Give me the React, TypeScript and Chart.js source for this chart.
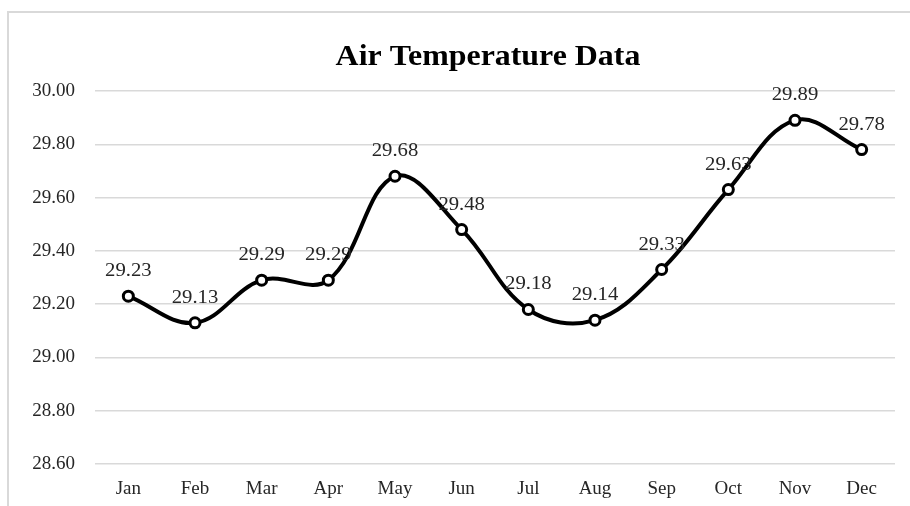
import React, { useEffect, useRef } from "react";
import { Chart, registerables } from "chart.js";

Chart.register(...registerables);

const title = "Air Temperature Data";
const months = ["Jan", "Feb", "Mar", "Apr", "May", "Jun", "Jul", "Aug", "Sep", "Oct", "Nov", "Dec"];
const temperatures = [29.23, 29.13, 29.29, 29.29, 29.68, 29.48, 29.18, 29.14, 29.33, 29.63, 29.89, 29.78];
const yMin = 28.6;
const yMax = 30.0;
const yStep = 0.2;

const FONT = "'Liberation Serif', 'Times New Roman', serif";

function stretchedText(ctx: any, text: string, x: number, y: number, sx: number) {
  ctx.save();
  ctx.translate(x, y);
  ctx.scale(sx, 1);
  ctx.fillText(text, 0, 0);
  ctx.restore();
}

const titlePlugin = {
  id: "customTitle",
  afterDraw(chart: any) {
    const ctx = chart.ctx;
    ctx.save();
    ctx.font = `bold 29px ${FONT}`;
    ctx.fillStyle = "#000000";
    ctx.textAlign = "center";
    ctx.textBaseline = "alphabetic";
    stretchedText(ctx, title, 488, 65, 1.1);
    ctx.restore();
  },
};

const dataLabelPlugin = {
  id: "dataLabels",
  afterDatasetsDraw(chart: any) {
    const ctx = chart.ctx;
    const meta = chart.getDatasetMeta(0);
    const data = chart.data.datasets[0].data as number[];
    ctx.save();
    ctx.font = `18px ${FONT}`;
    ctx.fillStyle = "#262626";
    ctx.textAlign = "center";
    ctx.textBaseline = "alphabetic";
    meta.data.forEach((pt: any, i: number) => {
      stretchedText(ctx, data[i].toFixed(2), pt.x, pt.y - 20, 1.15);
    });
    ctx.restore();
  },
};

export default function App() {
  const canvasRef = useRef<HTMLCanvasElement | null>(null);

  useEffect(() => {
    if (!canvasRef.current) return;
    const chart = new Chart(canvasRef.current, {
      type: "line",
      data: {
        labels: months,
        datasets: [
          {
            data: temperatures,
            borderColor: "#000000",
            borderWidth: 4,
            tension: 0.38,
            pointRadius: 5,
            pointHoverRadius: 5,
            pointBorderWidth: 3,
            pointBackgroundColor: "#ffffff",
            pointBorderColor: "#000000",
            fill: false,
          },
        ],
      },
      options: {
        animation: false,
        responsive: false,
        maintainAspectRatio: false,
        layout: { padding: { top: 91, right: 15, bottom: 0, left: 0 } },
        plugins: {
          legend: { display: false },
          title: { display: false },
          tooltip: { enabled: false },
        },
        scales: {
          x: {
            offset: true,
            grid: { display: false, drawTicks: false },
            border: { display: false },
            ticks: {
              color: "#262626",
              font: { family: FONT, size: 19 },
              padding: 14,
              maxRotation: 0,
              autoSkip: false,
            },
            afterFit(scale: any) {
              scale.height = 42;
            },
          },
          y: {
            min: yMin,
            max: yMax,
            grid: { color: "#d9d9d9", lineWidth: 1.5, drawTicks: false },
            border: { display: false },
            ticks: {
              stepSize: yStep,
              color: "#262626",
              font: { family: FONT, size: 19 },
              padding: 20,
              callback: (v: any) => Number(v).toFixed(2),
            },
            afterFit(scale: any) {
              scale.width = 95;
            },
          },
        },
      },
      plugins: [titlePlugin, dataLabelPlugin],
    });
    return () => chart.destroy();
  }, []);

  return (
    <div style={{ position: "fixed", left: 0, top: 0, width: 910, height: 506, background: "#ffffff" }}>
      <canvas ref={canvasRef} width={910} height={506} style={{ position: "absolute", left: 0, top: 0, width: 910, height: 506 }} />
      <div
        style={{
          position: "absolute",
          left: 7,
          top: 11,
          right: 0,
          bottom: 0,
          borderLeft: "2px solid #d9d9d9",
          borderTop: "2px solid #d9d9d9",
          pointerEvents: "none",
        }}
      />
    </div>
  );
}
